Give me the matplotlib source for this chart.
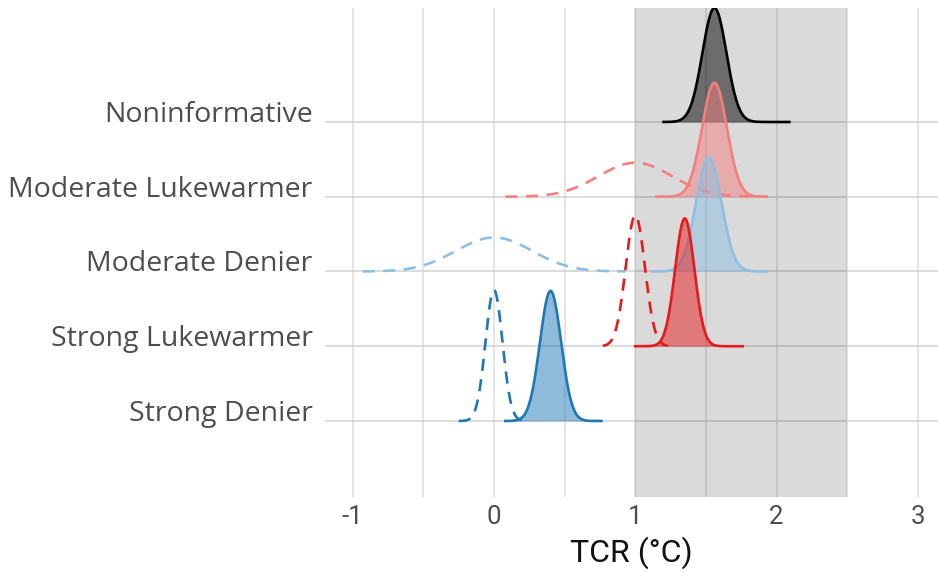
import numpy as np
import matplotlib
matplotlib.use("Agg")
import matplotlib.pyplot as plt

# ---- data ----
groups = ["Strong Denier", "Strong Lukewarmer", "Moderate Denier",
          "Moderate Lukewarmer", "Noninformative"]
colors = ["#1F78B4", "#E41A1C", "#8DBFE0", "#F37F7F", "#000000"]

# posterior densities (solid, filled)
post_mean = [0.40, 1.35, 1.52, 1.56, 1.56]
post_sd = [0.075, 0.068, 0.090, 0.088, 0.085]
post_height = [1.74, 1.71, 1.525, 1.525, 1.525]
post_xmin = [0.08, 1.00, 1.12, 1.15, 1.20]
post_xmax = [0.76, 1.76, 1.93, 1.93, 2.09]

# prior densities (dashed, unfilled); None = no prior drawn
prior_mean = [0.0, 1.0, 0.0, 1.0, None]
prior_sd = [0.060, 0.068, 0.27, 0.26, None]
prior_height = [1.75, 1.75, 0.455, 0.455, None]
prior_xmin = [-0.25, 0.77, -0.93, 0.08, None]
prior_xmax = [0.25, 1.23, 0.93, 1.93, None]

shade_range = (1.0, 2.5)
xticks = [-1, 0, 1, 2, 3]
xlabel = "TCR (°C)"

# ---- figure ----
W, H = 938, 573
fig = plt.figure(figsize=(W / 100, H / 100), dpi=100)
ax = fig.add_axes([325 / W, 1 - 497 / H, (938 - 325) / W, (497 - 8) / H])

ax.set_xlim(-1.196, 3.142)
ax.set_ylim(-0.017, 6.525)

grid_c = "#DEDEDE"
for xv in np.arange(-1.0, 3.01, 0.5):
    ax.axvline(xv, color=grid_c, lw=1.1, zorder=0)
for i in range(len(groups)):
    ax.axhline(i + 1, color="#D2D2D2", lw=1.1, zorder=0)

ax.axvspan(shade_range[0], shade_range[1], color="black", alpha=0.145,
           lw=0, zorder=1)

lw = 1.9
z = 2
for i in reversed(range(len(groups))):
    base = i + 1
    c = colors[i]
    if prior_mean[i] is not None:
        xs = np.linspace(prior_xmin[i], prior_xmax[i], 300)
        ys = base + prior_height[i] * np.exp(-0.5 * ((xs - prior_mean[i]) / prior_sd[i]) ** 2)
        ax.plot(xs, ys, color=c, lw=lw, ls=(0, (4.6, 3.2)), zorder=z,
                solid_capstyle="butt")
        z += 1
    xs = np.linspace(post_xmin[i], post_xmax[i], 300)
    ys = base + post_height[i] * np.exp(-0.5 * ((xs - post_mean[i]) / post_sd[i]) ** 2)
    ax.fill_between(xs, base, ys, color=c, alpha=0.5, lw=0, zorder=z)
    z += 1
    ax.plot(xs, ys, color=c, lw=lw, zorder=z)
    z += 1

for s in ax.spines.values():
    s.set_visible(False)

ax.set_yticks(range(1, len(groups) + 1))
ax.set_yticklabels(groups, fontfamily="Open Sans", fontsize=20.5, color="#4D4D4D",
                   va="baseline")
ax.set_xticks(xticks)
ax.set_xticklabels([str(t) for t in xticks], fontfamily="Roboto",
                   fontsize=18.5, color="#4D4D4D")
ax.tick_params(axis="both", length=0)
ax.tick_params(axis="y", pad=9)
ax.tick_params(axis="x", pad=6)
ax.set_xlabel(xlabel, fontfamily="Roboto", fontsize=23,
              color="#111111", labelpad=5)

fig.savefig("out.png", dpi=100)
